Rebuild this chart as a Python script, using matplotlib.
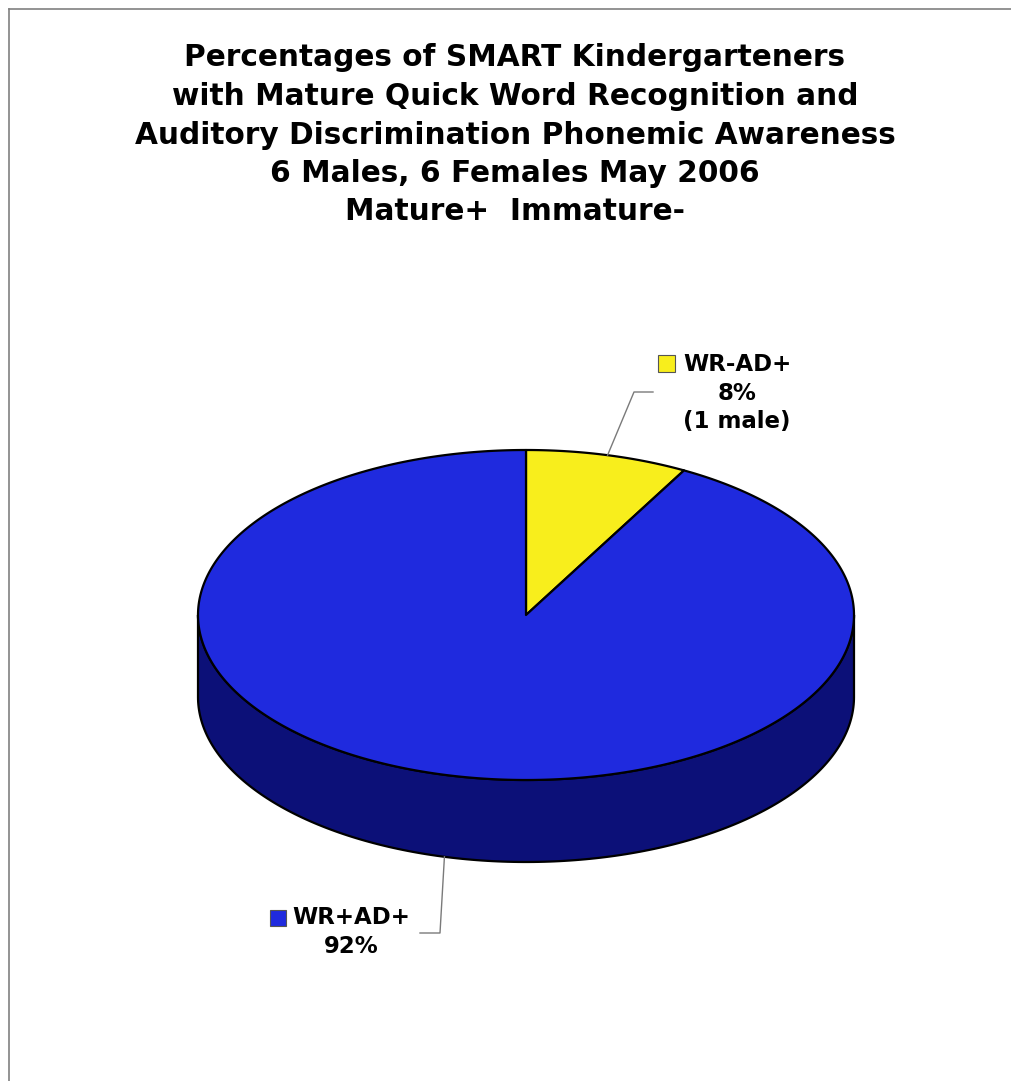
import numpy as np
import matplotlib
matplotlib.use("Agg")
import matplotlib.pyplot as plt
from matplotlib.patches import Polygon, Rectangle
from matplotlib.lines import Line2D

# ---- data ----
title_lines = [
    "Percentages of SMART Kindergarteners",
    "with Mature Quick Word Recognition and",
    "Auditory Discrimination Phonemic Awareness",
    "6 Males, 6 Females May 2006",
    "Mature+  Immature-",
]
categories = ["WR-AD+", "WR+AD+"]
values = [8, 92]
extra_notes = ["(1 male)", ""]
top_colors = ["#F8EE1C", "#1F2ADE"]
side_colors = ["#8A8410", "#0C1078"]

W, H = 1011, 1081
fig = plt.figure(figsize=(W / 100, H / 100), dpi=100)
ax = fig.add_axes([0, 0, 1, 1])
ax.set_xlim(0, W)
ax.set_ylim(H, 0)
ax.axis("off")

# frame border (top & left visible)
ax.add_line(Line2D([8.5, W + 5], [8.5, 8.5], color="#808080", lw=1.2))
ax.add_line(Line2D([8.5, 8.5], [8.5, H + 5], color="#808080", lw=1.2))

# title
for i, line in enumerate(title_lines):
    ax.text(515, 58 + i * 38.5, line, ha="center", va="center",
            fontsize=21.3, fontweight="bold", family="DejaVu Sans", color="black")

# pie geometry
cx, cy, rx, ry, depth = 526, 615, 328, 165, 82

def pt(t_deg, dz=0.0):
    t = np.radians(t_deg)
    return cx + rx * np.sin(t), cy - ry * np.cos(t) + dz

total = float(sum(values))
bounds = np.concatenate([[0], np.cumsum(values) / total * 360.0])

# side wall (visible front half: t in [90, 270])
for i in range(len(values)):
    a0, a1 = max(bounds[i], 90), min(bounds[i + 1], 270)
    if a1 <= a0:
        continue
    ts = np.linspace(a0, a1, 200)
    topx, topy = pt(ts)
    botx, boty = pt(ts[::-1], depth)
    poly = np.column_stack([np.concatenate([topx, botx]), np.concatenate([topy, boty])])
    ax.add_patch(Polygon(poly, closed=True, facecolor=side_colors[i],
                         edgecolor="black", lw=1.6, joinstyle="round"))

# top wedges
for i in range(len(values)):
    ts = np.linspace(bounds[i], bounds[i + 1], 400)
    x, y = pt(ts)
    poly = np.column_stack([np.concatenate([[cx], x]), np.concatenate([[cy], y])])
    ax.add_patch(Polygon(poly, closed=True, facecolor=top_colors[i],
                         edgecolor="black", lw=1.6, joinstyle="round"))

# labels with leader lines
mids = (bounds[:-1] + bounds[1:]) / 2
# yellow slice label
lx, ly = pt(mids[0])
ax.add_line(Line2D([lx, 634, 653], [ly, 392, 392], color="#7a7a7a", lw=1.0))
ax.text(737, 393, f"{categories[0]}\n{values[0]}%\n{extra_notes[0]}", ha="center", va="center",
        fontsize=16.5, fontweight="bold", family="DejaVu Sans", linespacing=1.3)
ax.add_patch(Rectangle((658, 355), 17, 17, facecolor=top_colors[0], edgecolor="#555555", lw=0.8))

# blue slice label
bx, by = pt(mids[1], depth)
ax.add_line(Line2D([bx, 440, 420], [by, 933, 933], color="#7a7a7a", lw=1.0))
ax.text(351, 932, f"{categories[1]}\n{values[1]}%", ha="center", va="center",
        fontsize=16.5, fontweight="bold", family="DejaVu Sans", linespacing=1.3)
ax.add_patch(Rectangle((270, 910), 16, 16, facecolor=top_colors[1], edgecolor="#555555", lw=0.8))

fig.savefig("out.png", dpi=100)
